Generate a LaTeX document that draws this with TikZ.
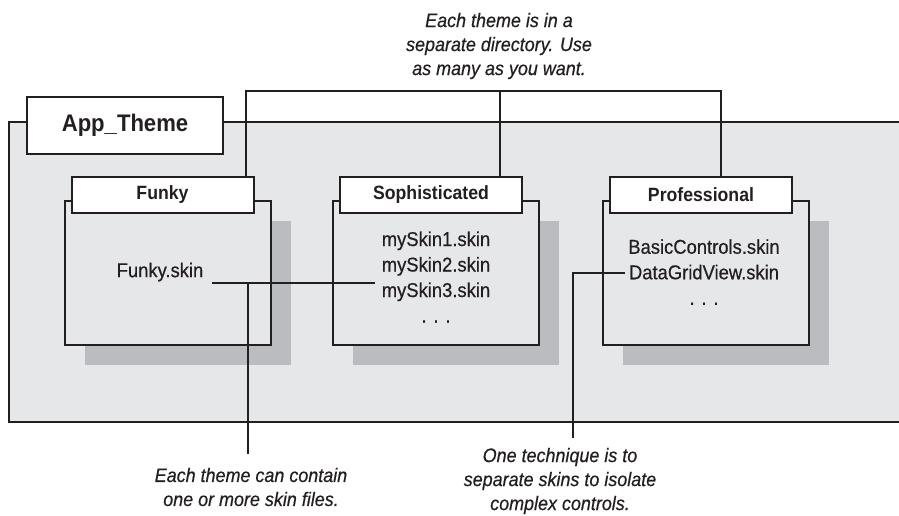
\documentclass[tikz,border=0pt]{standalone}
\usepackage{fontspec}
\setmainfont{Liberation Sans}[FakeStretch=0.92]
\newfontfamily\bodyfont{Liberation Sans}[FakeStretch=0.92, FakeBold=0.5]
\usepackage{xcolor}
\definecolor{panel}{RGB}{230,231,233}
\definecolor{shade}{RGB}{187,188,192}
\definecolor{ink}{RGB}{35,31,32}
\usetikzlibrary{positioning,calc}
\tikzset{
  %% boxes
  panelbox/.style={draw=ink, line width=2pt, fill=panel, inner sep=0pt},
  dirbox/.style={panelbox, minimum width=206pt, minimum height=144pt},
  shadowbox/.style={fill=shade, minimum width=206pt, minimum height=144pt, inner sep=0pt},
  tabbox/.style={draw=ink, line width=2pt, fill=white, inner sep=0pt,
                 minimum width=182pt, minimum height=36pt, text=ink,
                 font=\fontsize{19.2}{23}\selectfont\bfseries},
  %% texts and lines
  filelist/.style={align=center, text=ink, inner sep=0pt,
                   font=\bodyfont\fontsize{20}{25.5}\selectfont},
  note/.style={align=center, text=ink, inner sep=0pt,
               font=\bodyfont\itshape\fontsize{19.5}{24}\selectfont},
  link/.style={draw=ink, line width=1.4pt},
}
\begin{document}
\begin{tikzpicture}[x=1pt,y=-1pt]
\useasboundingbox[fill=white] (0,0) rectangle (899,515);
\node[panelbox, minimum width=900pt, minimum height=300pt] (apptheme) at (459,272) {};
\node[tabbox, minimum width=196pt, minimum height=57pt,
      font=\fontsize{24}{29}\selectfont\bfseries] (app-tab) at (125,125.5) {App\_Theme};
\foreach \dir/\cx/\title in {funky/167.5/Funky, soph/436/Sophisticated, prof/706/Professional}{
  \node[shadowbox] (\dir-shadow) at (\cx+20,293) {};
  \node[dirbox] (\dir) at (\cx,273) {};
  \node[tabbox] (\dir-tab) at (\cx-5,195) {\title};
}
\node[filelist] (funky-files) at (160,272) {Funky.skin};
\node[filelist] (soph-files) at (436,277) {mySkin1.skin\\mySkin2.skin\\mySkin3.skin\\. . .};
\node[filelist] (prof-files) at (704,272) {BasicControls.skin\\DataGridView.skin\\. . .};

\node[note] (theme-note) at (499,46) {Each theme is in a\\separate directory. Use\\as many as you want.};
\node[note] (skin-note) at (251,487) {Each theme can contain\\one or more skin files.};
\node[note] (tech-note) at (560,481) {One technique is to\\separate skins to isolate\\complex controls.};

%% connectors
\coordinate (bar) at (500,91);
\draw[link] ([xshift=83.5pt]funky-tab.north) |- (bar) -| ([xshift=20pt]prof-tab.north);
\draw[link] (bar) -- ([xshift=69pt]soph-tab.north);
\coordinate (skin-a) at (212,283);
\coordinate (skin-b) at (375,283);
\coordinate (skin-mid) at (248,283);
\coordinate (skin-end) at (248,454);
\draw[link] (skin-a) -- (skin-b);
\draw[link] (skin-mid) -- (skin-end);
\coordinate (grid-a) at (625,273);
\coordinate (grid-end) at (573,438);
\draw[link] (grid-a) -| (grid-end);
\end{tikzpicture}
\end{document}
